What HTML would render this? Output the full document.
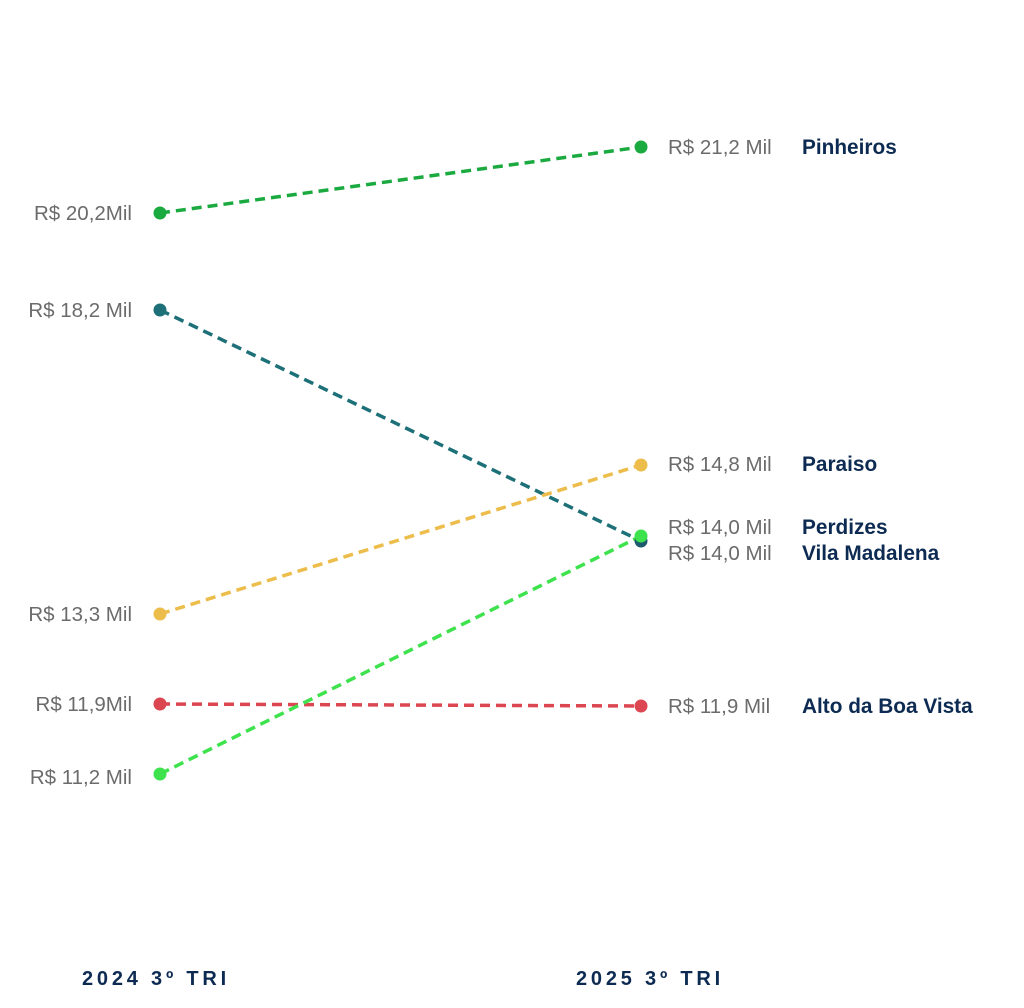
<!DOCTYPE html>
<html><head><style>body{margin:0;background:#fff}</style></head><body>
<svg width="1024" height="1008" xmlns="http://www.w3.org/2000/svg" style="display:block">
<g stroke-width="3.5" stroke-dasharray="10,6" fill="none">
<line x1="160" y1="213" x2="641" y2="147" stroke="#1aaa3f"/>
<line x1="160" y1="310" x2="641" y2="541" stroke="#1d7078"/>
<line x1="160" y1="614" x2="641" y2="465" stroke="#edbd4c"/>
<line x1="160" y1="704" x2="641" y2="706" stroke="#dc4650"/>
<line x1="160" y1="774" x2="641" y2="536" stroke="#3ee24d"/>
</g>
<circle cx="160" cy="213" r="6.5" fill="#1aaa3f"/><circle cx="641" cy="147" r="6.5" fill="#1aaa3f"/>
<circle cx="160" cy="310" r="6.5" fill="#1d7078"/><circle cx="641" cy="541" r="6.5" fill="#1d5a6e"/>
<circle cx="160" cy="614" r="6.5" fill="#edbd4c"/><circle cx="641" cy="465" r="6.5" fill="#edbd4c"/>
<circle cx="160" cy="704" r="6.5" fill="#dc4650"/><circle cx="641" cy="706" r="6.5" fill="#dc4650"/>
<circle cx="160" cy="774" r="6.5" fill="#3ee24d"/><circle cx="641" cy="536" r="6.5" fill="#3ee24d"/>
<g font-family="Liberation Sans, sans-serif" font-size="20.5" fill="#6b6b6b">
<g text-anchor="end">
<text x="132" y="220">R$ 20,2Mil</text>
<text x="132" y="317">R$ 18,2 Mil</text>
<text x="132" y="621">R$ 13,3 Mil</text>
<text x="132" y="711">R$ 11,9Mil</text>
<text x="132" y="784">R$ 11,2 Mil</text>
</g>
<text x="668" y="154">R$ 21,2 Mil</text>
<text x="668" y="471">R$ 14,8 Mil</text>
<text x="668" y="534">R$ 14,0 Mil</text>
<text x="668" y="560">R$ 14,0 Mil</text>
<text x="668" y="713">R$ 11,9 Mil</text>
</g>
<g font-family="Liberation Sans, sans-serif" font-size="20.8" font-weight="bold" fill="#0d2b52">
<text x="802" y="154">Pinheiros</text>
<text x="802" y="471">Paraiso</text>
<text x="802" y="534">Perdizes</text>
<text x="802" y="560">Vila Madalena</text>
<text x="802" y="713">Alto da Boa Vista</text>
</g>
<g font-family="Liberation Sans, sans-serif" font-size="20" font-weight="bold" fill="#0d2b52" letter-spacing="3.8" text-anchor="middle">
<text x="156" y="985">2024 3º TRI</text>
<text x="650" y="985">2025 3º TRI</text>
</g>
</svg>
</body></html>
